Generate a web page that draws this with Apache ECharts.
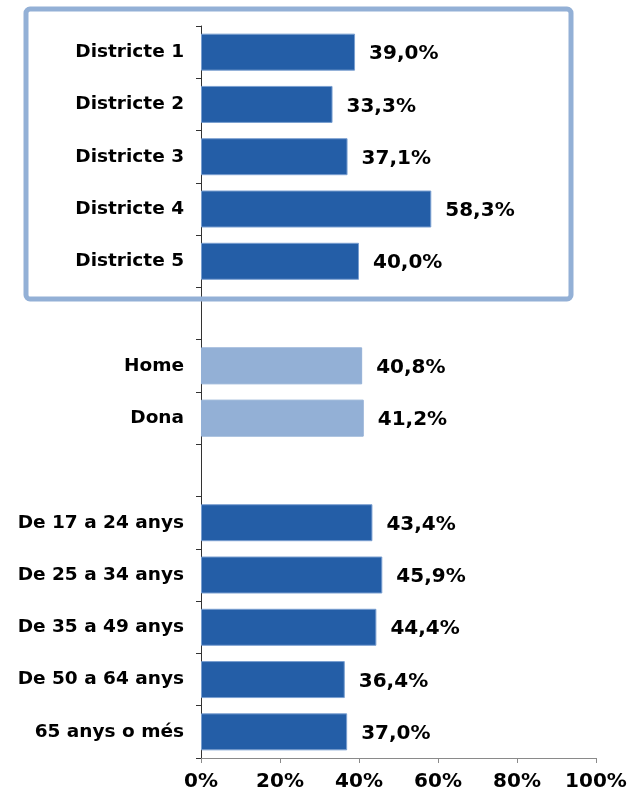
<!DOCTYPE html>
<html>
<head>
<meta charset="utf-8">
<script src="https://cdn.jsdelivr.net/npm/echarts@6/dist/echarts.min.js"></script>
<style>
	html, body { margin: 0; padding: 0; background: #ffffff; }
	#chart { width: 633px; height: 793px; }
</style>
</head>
<body>
<div id="chart"></div>
<script>
	// categories top to bottom, '' = gap between groups
	var categories = ['Districte 1', 'Districte 2', 'Districte 3', 'Districte 4', 'Districte 5', '',
		'Home', 'Dona', '',
		'De 17 a 24 anys', 'De 25 a 34 anys', 'De 35 a 49 anys', 'De 50 a 64 anys', '65 anys o més'];
	var values = [39.0, 33.3, 37.1, 58.3, 40.0, null, 40.8, 41.2, null, 43.4, 45.9, 44.4, 36.4, 37.0];
	var lightBars = ['Home', 'Dona'];
	var xTicks = [0, 20, 40, 60, 80, 100];

	var darkBlue = '#245ea7';
	var lightBlue = '#93b0d6';
	var fontFam = '"DejaVu Sans", Verdana, sans-serif';

	var chart = echarts.init(document.getElementById('chart'));

	var barData = values.map(function (v, i) {
		var light = lightBars.indexOf(categories[i]) >= 0;
		return {
			value: v,
			itemStyle: {
				color: light ? lightBlue : darkBlue,
				borderColor: light ? lightBlue : '#7a9fd0',
				borderWidth: 1
			}
		};
	});

	var option = {
		backgroundColor: '#ffffff',
		animation: false,
		grid: { left: 201, right: 37, top: 26, bottom: 35, containLabel: false },
		xAxis: {
			type: 'value',
			min: xTicks[0],
			max: xTicks[xTicks.length - 1],
			interval: 20,
			splitLine: { show: false },
			axisLine: { show: true, lineStyle: { color: '#8a8a8a', width: 1 } },
			axisTick: { show: true, length: 5, lineStyle: { color: '#8a8a8a' } },
			axisLabel: {
				margin: 14,
				color: '#000',
				fontFamily: fontFam,
				fontWeight: 'bold',
				fontSize: 20,
				formatter: function (v) { return v + '%'; }
			}
		},
		yAxis: {
			type: 'category',
			data: categories,
			inverse: true,
			axisLine: { show: true, lineStyle: { color: '#333', width: 1 } },
			axisTick: { show: true, length: 5, lineStyle: { color: '#333' } },
			axisLabel: {
				margin: 17,
				color: '#000',
				fontFamily: fontFam,
				fontWeight: 'bold',
				fontSize: 18.5
			}
		},
		series: [{
			type: 'bar',
			data: barData,
			barWidth: 37,
			label: {
				show: true,
				position: 'right',
				distance: 14,
				offset: [0, 2],
				color: '#000',
				fontFamily: fontFam,
				fontWeight: 'bold',
				fontSize: 20,
				formatter: function (p) {
					return p.value == null ? '' : p.value.toFixed(1).replace('.', ',') + '%';
				}
			}
		}],
		graphic: [{
			type: 'rect',
			shape: { x: 26, y: 9, width: 545, height: 290, r: 4 },
			style: { fill: null, stroke: lightBlue, lineWidth: 5 },
			z: 100
		}]
	};

	chart.setOption(option);
	window.addEventListener('resize', function () {
		chart.resize();
	});
</script>
</body>
</html>
